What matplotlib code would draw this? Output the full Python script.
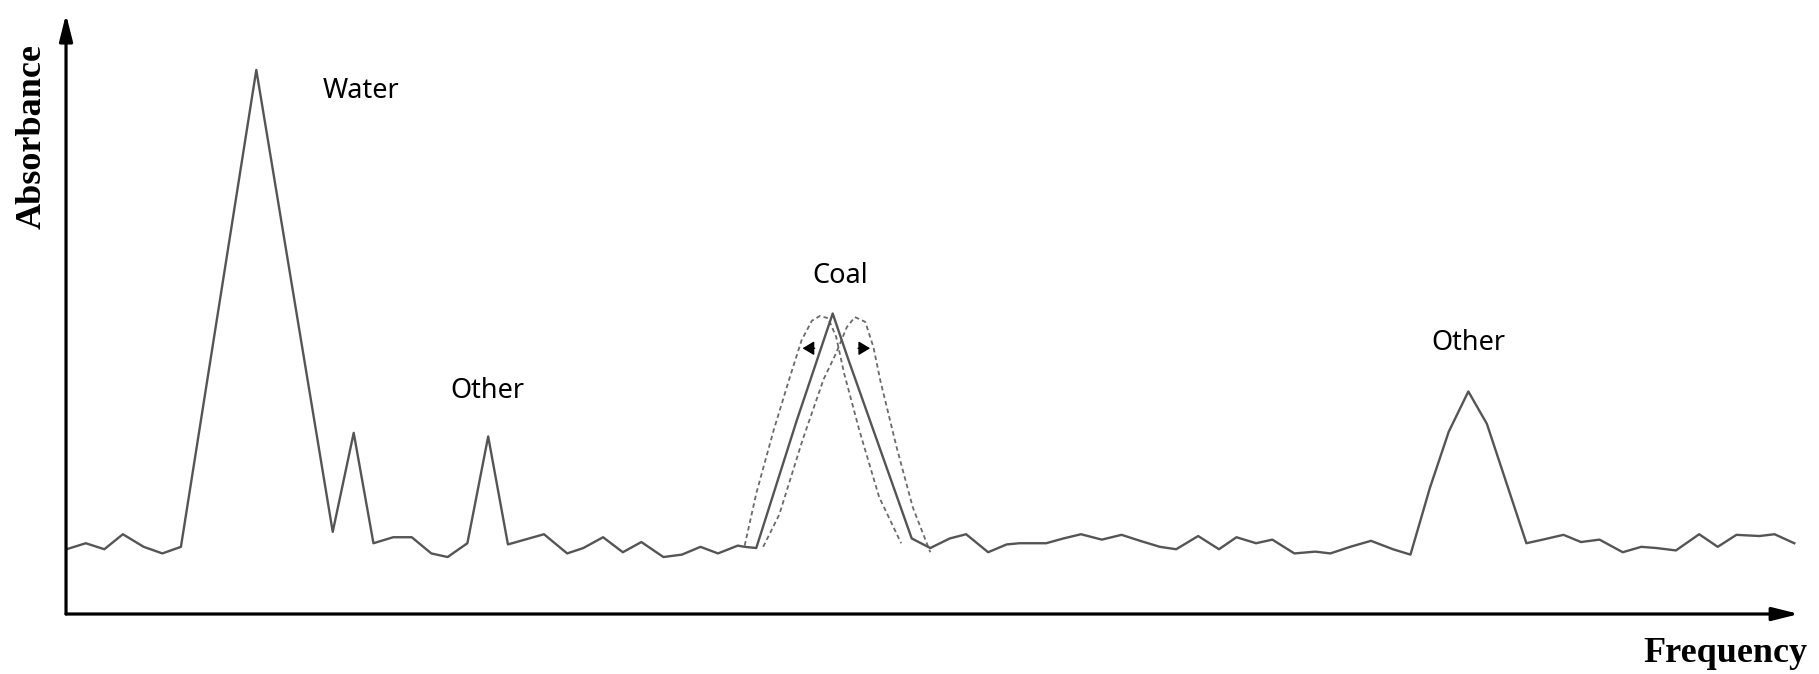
import matplotlib
matplotlib.use("Agg")
import matplotlib.pyplot as plt

# spectrum: frequency and absorbance in arbitrary units (axis = 0..100)
freq = [0.03, 1.14, 2.21, 3.28, 4.48, 5.56, 6.63, 10.98, 15.39, 16.60,
        17.74, 18.88, 19.95, 21.08, 22.02, 23.16, 24.36, 25.50, 27.58, 28.92,
        29.85, 30.99, 32.13, 33.20, 34.47, 35.54, 36.61, 37.62, 38.76, 39.16,
        39.83, 42.17, 44.24, 45.11, 48.80, 49.87, 51.00, 51.94, 53.21, 54.28,
        55.02, 56.56, 57.56, 58.57, 59.77, 60.91, 61.98, 63.12, 64.06, 65.33,
        66.53, 67.54, 68.67, 69.61, 70.88, 72.09, 72.96, 74.10, 75.30, 76.57,
        77.58, 78.71, 79.79, 80.92, 81.99, 84.27, 85.21, 86.41, 87.42, 88.49,
        89.83, 90.90, 91.77, 92.90, 94.24, 95.31, 96.39, 97.72, 98.59, 99.73]
absorb = [10.8, 11.8, 10.8, 13.3, 11.2, 10.1, 11.2, 90.7, 13.7, 30.2,
          11.8, 12.8, 12.8, 10.1, 9.5, 11.8, 29.6, 11.6, 13.3, 10.1,
          11.0, 12.8, 10.3, 12.0, 9.5, 9.9, 11.2, 10.1, 11.4, 11.2,
          11.0, 32.3, 50.1, 42.7, 12.6, 11.0, 12.6, 13.3, 10.3, 11.6,
          11.8, 11.8, 12.6, 13.3, 12.4, 13.2, 12.2, 11.2, 10.8, 13.0,
          10.8, 12.8, 11.8, 12.4, 10.1, 10.4, 10.1, 11.2, 12.2, 10.8,
          9.9, 21.1, 30.4, 37.1, 31.7, 11.8, 12.4, 13.2, 12.0, 12.4,
          10.3, 11.2, 11.0, 10.6, 13.3, 11.2, 13.2, 13.0, 13.3, 11.8]

# coal peak shifted to lower / higher frequency (dashed)
shift_lo_freq = [39.16, 39.83, 40.83, 41.77, 42.44, 43.04, 43.51, 43.98, 44.44, 44.91, 45.78, 46.92, 48.19]
shift_lo_abs = [11.4, 20.1, 30.6, 39.5, 45.6, 48.9, 49.7, 49.3, 46.2, 40.0, 30.6, 19.5, 11.8]
shift_hi_freq = [40.23, 41.16, 42.50, 43.71, 44.44, 45.05, 45.52, 46.12, 46.59, 46.99, 47.92, 48.86, 49.87]
shift_hi_abs = [11.2, 16.6, 29.0, 39.1, 43.5, 47.8, 49.5, 48.7, 44.5, 38.9, 27.9, 17.8, 10.3]

labels = ["Water", "Other", "Coal", "Other"]
label_freq = [17.0, 24.3, 44.7, 80.9]
label_abs = [87.2, 37.1, 56.3, 45.1]

fig = plt.figure(figsize=(18.19, 6.74), dpi=100)
ax = fig.add_axes([0.0363, 0.0890, 0.9527, 0.890])
ax.set_xlim(0, 100)
ax.set_ylim(0, 100)
ax.axis("off")

ax.plot(freq, absorb, color="#555555", lw=1.7, zorder=3)
ax.plot(shift_lo_freq, shift_lo_abs, color="#6a6a6a", lw=1.3, dashes=(2.5, 1.8))
ax.plot(shift_hi_freq, shift_hi_abs, color="#6a6a6a", lw=1.3, dashes=(2.5, 1.8))

# shift arrows
small = dict(arrowstyle="-|>,head_length=0.5,head_width=0.3", color="black", lw=1.0,
             mutation_scale=14, shrinkA=0, shrinkB=0)
ax.annotate("", xy=(42.5, 44.3), xytext=(43.2, 44.3), arrowprops=small)
ax.annotate("", xy=(46.4, 44.3), xytext=(45.7, 44.3), arrowprops=small)

# axes drawn as arrows
big = dict(arrowstyle="-|>,head_length=0.8,head_width=0.2", color="black", lw=2.3,
           mutation_scale=20, shrinkA=0, shrinkB=0)
ax.annotate("", xy=(1, 0), xytext=(0, 0), xycoords="axes fraction", arrowprops=big)
ax.annotate("", xy=(0, 1), xytext=(0, 0), xycoords="axes fraction", arrowprops=big)

for text, x, y in zip(labels, label_freq, label_abs):
    ax.text(x, y, text, fontsize=19.5, family="Noto Sans", ha="center", va="center")

fig.text(32 / 1819, 1 - 137 / 674, "Absorbance", rotation=90, fontsize=26,
         family="Liberation Serif", weight="bold", ha="center", va="center")
fig.text(1725 / 1819, 1 - 653 / 674, "Frequency", fontsize=26,
         family="Liberation Serif", weight="bold", ha="center", va="center")

fig.savefig("out.png", dpi=100)
